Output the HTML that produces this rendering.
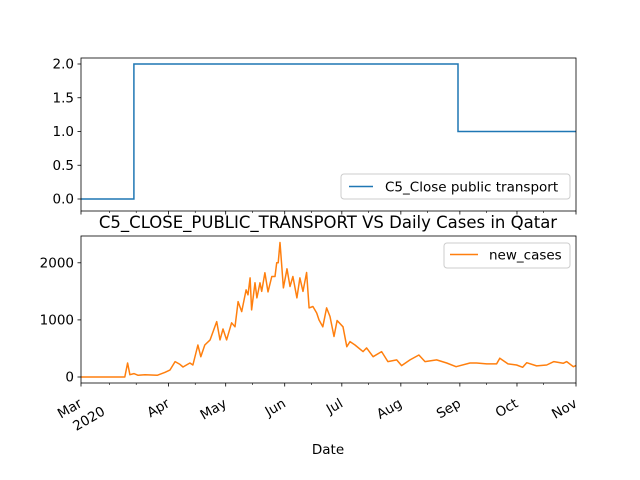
<!DOCTYPE html>
<html><head><meta charset="utf-8"><style>
html,body{margin:0;padding:0;background:#fff}
svg{display:block;font-family:"DejaVu Sans","Liberation Sans",sans-serif}
</style></head><body>
<svg id="c" width="640" height="480" viewBox="0 0 640 480" xmlns="http://www.w3.org/2000/svg"></svg>
<script>
// day offsets from 2020-02-15
const monthLabels = ["Mar","Apr","May","Jun","Jul","Aug","Sep","Oct","Nov"];
const monthDays = [0,46,76,107,137,168,199,229,260];
const minorDays = [15,29,60,90,121,151,182,213,243];
const transportDays = [0,27.8,27.8,198,198,260];
const transportVals = [0,0,2,2,1,1];
const topTicks = [0,0.5,1,1.5,2];
const botTicks = [0,1000,2000];
const caseDays = [0,23,24.5,25.7,27.8,30,33.6,40,44,46.7,49.4,52,53.6,57.2,58.8,61.4,62.9,65,67.8,71.3,73,74.6,76.5,79.1,80.9,82.5,84.4,86.7,87.7,88.8,89.6,91.4,92.4,94,94.9,96.6,98.2,100.2,101.9,102.8,103.6,104.5,106.3,108.2,109.8,111.3,113.4,115,116.6,118.5,119.8,121.8,123.8,125,127,129,130.8,132.9,134.5,137.6,139.6,141.3,143.9,148.1,150,153.4,157.9,161.2,165.8,168.4,172.8,177.5,180.7,186.8,192.1,197,204.3,207.8,213.1,218.3,220,224.3,228.8,232,234.1,239.3,244.6,248.4,253.3,255.1,258.6,260];
const caseVals = [0,0,245,40,60,30,40,30,80,120,270,220,175,245,210,560,355,560,650,970,650,840,650,950,880,1320,1145,1525,1440,1735,1175,1650,1385,1650,1500,1825,1490,1760,1760,2000,2000,2355,1560,1895,1585,1760,1385,1735,1500,1830,1210,1235,1120,1000,880,1210,1060,710,990,880,530,620,560,445,510,355,445,270,300,200,300,385,270,300,245,180,245,245,230,230,330,230,210,170,250,195,210,270,240,270,180,200];

const NS="http://www.w3.org/2000/svg";
const svg=document.getElementById('c');
const X0=81,X1=576;
const x=d=>X0+(X1-X0)*d/260;
const yTop=v=>199-v*67.5;
const yBot=v=>377-v*0.0571;
function el(t,a,p){const e=document.createElementNS(NS,t);for(const k in a)e.setAttribute(k,a[k]);(p||svg).appendChild(e);return e;}

// top axes
const gTop=el('g',{});


let pts=transportDays.map((d,i)=>x(d).toFixed(1)+','+yTop(transportVals[i]).toFixed(1)).join(' ');
const tl=el('polyline',{points:pts,fill:'none',stroke:'#1f77b4','stroke-width':1.5},gTop);


el('rect',{x:X0,y:58,width:X1-X0,height:153,fill:'none',stroke:'#000','stroke-width':0.8},gTop);
topTicks.forEach(v=>{
  el('line',{x1:X0-3.5,x2:X0,y1:yTop(v),y2:yTop(v),stroke:'#000','stroke-width':0.8},gTop);
  const t=el('text',{x:X0-7,y:yTop(v)+4.5,'text-anchor':'end','font-size':13.5},gTop);t.textContent=v.toFixed(1);
  
  
});
monthDays.forEach(d=>el('line',{x1:x(d),x2:x(d),y1:211,y2:214.5,stroke:'#000','stroke-width':0.8},gTop));
minorDays.forEach(d=>el('line',{x1:x(d),x2:x(d),y1:211,y2:213,stroke:'#000','stroke-width':0.6},gTop));
// top legend
const lg1=el('g',{});


el('rect',{x:341,y:174,width:229,height:25,rx:3,fill:'#fff','fill-opacity':0.8,stroke:'#ccc'},lg1);
el('line',{x1:349,x2:373,y1:186.5,y2:186.5,stroke:'#1f77b4','stroke-width':1.5},lg1);
let tt=el('text',{x:385,y:191.5,'font-size':13.5},lg1);tt.textContent='C5_Close public transport';

// title
const title=el('text',{x:328,y:228,'text-anchor':'middle','font-size':16.5});
title.textContent='C5_CLOSE_PUBLIC_TRANSPORT VS Daily Cases in Qatar';



// bottom axes
const gB=el('g',{});


pts=caseDays.map((d,i)=>x(d).toFixed(1)+','+yBot(caseVals[i]).toFixed(1)).join(' ');
const cl=el('polyline',{points:pts,fill:'none',stroke:'#ff7f0e','stroke-width':1.5,'stroke-linejoin':'round'},gB);


el('rect',{x:X0,y:236,width:X1-X0,height:147,fill:'none',stroke:'#000','stroke-width':0.8},gB);
botTicks.forEach(v=>{
  el('line',{x1:X0-3.5,x2:X0,y1:yBot(v),y2:yBot(v),stroke:'#000','stroke-width':0.8},gB);
  const t=el('text',{x:X0-7,y:yBot(v)+4.5,'text-anchor':'end','font-size':13.5},gB);t.textContent=v;
  
  
});
monthDays.forEach((d,i)=>{
  el('line',{x1:x(d),x2:x(d),y1:383,y2:386.5,stroke:'#000','stroke-width':0.8},gB);
  const t=el('text',{'text-anchor':'end','font-size':13.5,transform:`translate(${x(d)+2},${406}) rotate(-30)`},gB);
  t.textContent=monthLabels[i];
  
  
  if(i===0){const t2=el('text',{'text-anchor':'end','font-size':13.5,transform:`translate(${x(d)+25},${414}) rotate(-30)`},gB);t2.textContent='2020';}
});
minorDays.forEach(d=>el('line',{x1:x(d),x2:x(d),y1:383,y2:385,stroke:'#000','stroke-width':0.6},gB));
const xl=el('text',{x:328,y:454,'text-anchor':'middle','font-size':13.5});xl.textContent='Date';


// bottom legend
const lg2=el('g',{});


el('rect',{x:444,y:243,width:126,height:25,rx:3,fill:'#fff','fill-opacity':0.8,stroke:'#ccc'},lg2);
el('line',{x1:450,x2:478,y1:254.5,y2:254.5,stroke:'#ff7f0e','stroke-width':1.5},lg2);
tt=el('text',{x:489,y:259.5,'font-size':13.5},lg2);tt.textContent='new_cases';
</script>
</body></html>
